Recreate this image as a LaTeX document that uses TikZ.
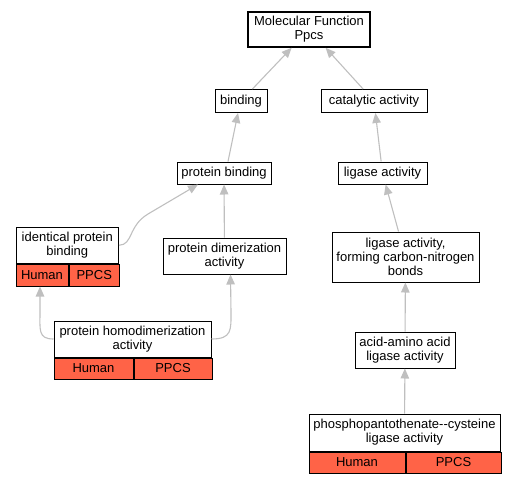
\documentclass[tikz,border=0pt]{standalone}
\usepackage{fontspec}
\setmainfont{Liberation Sans}
\usetikzlibrary{shapes,arrows.meta,positioning}
\tikzstyle{term} = [rectangle, inner sep=0pt, text centered, draw=black, line width=1pt, fill=white]
\tikzstyle{gene} = [rectangle, inner sep=0pt, minimum height=22pt, text centered, draw=black, line width=1pt, fill={rgb,255:red,255;green,99;blue,71}]
\tikzstyle{arrow} = [-{Triangle[length=10pt,width=8.5pt]}, line width=1.1pt, draw=gray!50, color=gray!50]

\begin{document}
\begin{tikzpicture}[x=1pt,y=-1pt,every text node part/.style={align=center},
  every node/.style={font=\fontsize{13}{14}\selectfont}]
\useasboundingbox (0,0) rectangle (515,483);

\node(mf) [term, line width=1.5pt, minimum width=122pt, minimum height=35pt] at (309,29.5) {Molecular Function\\Ppcs};

\node(bind) [term, minimum width=52pt, minimum height=23pt] at (241,101) {binding};
\node(cat) [term, minimum width=106pt, minimum height=23pt] at (374,101) {catalytic activity};

\node(pbind) [term, minimum width=94pt, minimum height=22pt] at (224,173) {protein binding};
\node(lig) [term, minimum width=89pt, minimum height=22pt] at (382.5,173) {ligase activity};

\node(idb) [term, minimum width=102.5pt, minimum height=35.5pt] at (67.25,245.25) {identical protein\\binding};
\node(idbh) [gene, minimum width=52pt, below right=0pt and 0pt of idb.south west] {Human};
\node(idbp) [gene, minimum width=50.5pt, right=0pt of idbh] {PPCS};

\node(pdim) [term, minimum width=123pt, minimum height=36pt] at (224.5,256) {protein dimerization\\activity};

\node(ligcn) [term, minimum width=147pt, minimum height=50pt] at (405.5,257) {ligase activity,\\forming carbon-nitrogen\\bonds};

\node(phom) [term, minimum width=157pt, minimum height=36pt] at (132.5,339) {protein homodimerization\\activity};
\node(phomh) [gene, minimum width=79pt, minimum height=21pt, below right=0pt and 0pt of phom.south west] {Human};
\node(phomp) [gene, minimum width=78pt, minimum height=21pt, right=0pt of phomh] {PPCS};

\node(aaa) [term, minimum width=100pt, minimum height=36pt] at (405,350) {acid-amino acid\\ligase activity};

\node(ppc) [term, minimum width=191pt, minimum height=37pt] at (404.5,432.5) {phosphopantothenate-{}-cysteine\\ligase activity};
\node(ppch) [gene, minimum width=96pt, minimum height=21pt, below right=0pt and 0pt of ppc.south west] {Human};
\node(ppcp) [gene, minimum width=95pt, minimum height=21pt, right=0pt of ppch] {PPCS};

\draw[arrow] (bind) -- (mf);
\draw[arrow] (cat) -- (mf);
\draw[arrow] ([xshift=4pt]pbind.north) -- ([xshift=-3pt]bind.south);
\draw[arrow] (lig) -- (cat);
\draw[arrow] (pdim) -- (pbind);
\draw[arrow] (ligcn) -- (lig);
\draw[arrow] (aaa) -- (ligcn);
\draw[arrow] (ppc) -- (aaa);
\draw[arrow] (idb.east) .. controls (133,245) and (128,226) .. (148,214) -- ([xshift=-26pt]pbind.south);
\draw[arrow] (phom.west) .. controls (38,339) and (40,330) .. (40,312) -- ([xshift=-2pt]idbh.south);
\draw[arrow] (phom.east) .. controls (232,339) and (231,330) .. (231,312) -- ([xshift=6pt]pdim.south);

\end{tikzpicture}
\end{document}
